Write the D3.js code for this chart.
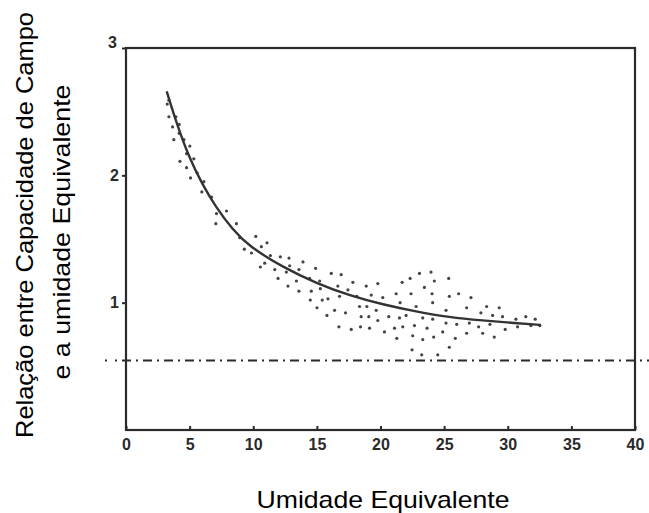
<!DOCTYPE html>
<html>
<head>
<meta charset="utf-8">
<script src="https://cdn.jsdelivr.net/npm/d3@7"></script>
<style>
  body { margin: 0; background: #fff; }
  svg { display: block; }
</style>
</head>
<body>
<script>
// tick values
var xTicks = [0, 5, 10, 15, 20, 25, 30, 35, 40];
var yTicks = [1, 2, 3];

// fitted curve (umidade equivalente vs relacao)
var curveX = [3.2, 4.0, 5.0, 6.0, 7.0, 8.4, 9.7, 12.3, 15.0, 17.6, 20.2, 22.8, 25.4, 28.0, 30.6, 32.6];
var curveY = [2.66, 2.40, 2.13, 1.93, 1.76, 1.57, 1.44, 1.28, 1.15, 1.055, 0.985, 0.93, 0.885, 0.86, 0.84, 0.825];

// observed points
var scatterX = [3.37, 3.24, 3.37, 3.92, 3.66, 4.18, 4.18, 3.76, 4.55, 5.02, 4.76, 5.33, 4.24, 4.76, 5.07, 5.59,
    6.12, 5.96, 6.72, 7.11, 7.90, 7.06, 8.68, 8.94, 9.3,
    10.20, 11.08, 10.64, 9.86, 11.35, 12.13, 12.81, 13.91, 10.56, 10.90, 11.69, 12.60, 12.86, 13.59, 14.90,
    11.95, 13.39, 14.43, 15.22, 16.13, 16.91, 12.73, 13.59, 14.56, 15.27, 16.65, 17.83, 18.88, 19.79,
    14.48, 15.42, 15.87, 16.78, 17.44, 18.14, 19.27, 20.18, 21.70, 22.33, 23.06, 23.97, 24.23, 25.36,
    23.45, 24.05, 25.41, 26.14, 27.11, 21.23, 22.40,
    15.01, 16.39, 17.25, 18.35, 18.93, 19.66, 21.54, 22.80, 24.10, 25.15, 26.77, 28.34, 29.33,
    15.79, 18.48, 19.08, 19.79, 20.65, 21.49, 22.01, 23.32, 24.10, 25.15, 25.99, 26.98, 27.89, 28.81, 29.59,
    30.64, 31.42, 32.16,
    16.73, 17.70, 18.43, 19.14, 20.31, 21.10, 21.75, 22.67, 23.66, 24.89, 25.88, 26.77, 27.71, 28.60, 29.80,
    30.77, 31.82, 32.52,
    21.28, 22.53, 23.32, 24.18, 25.41, 28.03, 28.94, 22.48, 23.24, 24.50];
var scatterY = [2.59, 2.56, 2.46, 2.46, 2.38, 2.40, 2.33, 2.28, 2.28, 2.23, 2.17, 2.13, 2.11, 2.06, 1.98, 2.02,
    1.95, 1.87, 1.83, 1.70, 1.72, 1.62, 1.62, 1.51, 1.42,
    1.52, 1.47, 1.44, 1.39, 1.37, 1.36, 1.35, 1.32, 1.28, 1.31, 1.26, 1.24, 1.29, 1.26, 1.27,
    1.19, 1.17, 1.19, 1.17, 1.23, 1.22, 1.13, 1.09, 1.09, 1.11, 1.13, 1.16, 1.13, 1.15,
    1.02, 1.02, 1.03, 1.05, 1.10, 1.05, 1.06, 1.04, 1.16, 1.19, 1.23, 1.24, 1.17, 1.19,
    1.12, 1.07, 1.05, 1.07, 1.04, 1.07, 1.07,
    0.96, 0.94, 0.92, 0.97, 0.97, 0.94, 1.00, 0.97, 1.00, 0.94, 0.96, 0.97, 0.96,
    0.90, 0.89, 0.89, 0.86, 0.89, 0.88, 0.90, 0.88, 0.87, 0.84, 0.83, 0.84, 0.92, 0.90, 0.89,
    0.87, 0.89, 0.87,
    0.81, 0.79, 0.81, 0.80, 0.77, 0.80, 0.81, 0.82, 0.80, 0.77, 0.72, 0.76, 0.81, 0.83, 0.79,
    0.81, 0.82, 0.82,
    0.72, 0.74, 0.71, 0.73, 0.65, 0.76, 0.73, 0.63, 0.59, 0.59];

// horizontal reference level
var refLevel = 0.545;

var xTitle = "Umidade Equivalente";
var yTitle1 = "Relação entre Capacidade de Campo";
var yTitle2 = "e a umidade Equivalente";

function init() {
    var w = 649;
    var h = 513;
    var left = 126, right = 635, top = 48, bottom = 430;
    var ink = "#2a2a2a";

    var svg = d3.select("body")
        .append("svg")
        .attr("width", w)
        .attr("height", h);

    svg.append("rect")
        .attr("width", w)
        .attr("height", h)
        .attr("fill", "#fff");

    var x = d3.scaleLinear().domain([0, 40]).range([left, right]);
    var y = d3.scaleLinear().domain([0, 3]).range([bottom, top]);

    // frame
    svg.append("rect")
        .attr("x", left)
        .attr("y", top)
        .attr("width", right - left)
        .attr("height", bottom - top)
        .attr("fill", "none")
        .attr("stroke", ink)
        .attr("stroke-width", 2.2);

    // x axis
    var xAxis = svg.append("g")
        .attr("transform", "translate(0," + bottom + ")")
        .call(d3.axisBottom(x).tickValues(xTicks).tickSize(-4).tickPadding(9));
    xAxis.select(".domain").remove();

    // y axis
    var yAxis = svg.append("g")
        .attr("transform", "translate(" + left + ",0)")
        .call(d3.axisLeft(y).tickValues(yTicks).tickFormat(d3.format("d")).tickSize(4).tickPadding(3));
    yAxis.select(".domain").remove();
    yAxis.selectAll(".tick text")
        .attr("dy", function(d) { return d === 3 ? "-0.05em" : "0.32em"; })
        .attr("x", function(d) { return d === 3 ? -9 : -7; });

    svg.selectAll(".tick line")
        .attr("stroke", ink)
        .attr("stroke-width", 2);
    svg.selectAll(".tick text")
        .attr("fill", ink)
        .style("font-family", "'Liberation Sans', Arial, sans-serif")
        .style("font-weight", "bold")
        .style("font-size", "16px");

    // dash-dot reference line
    svg.append("line")
        .attr("x1", left - 21)
        .attr("x2", w)
        .attr("y1", y(refLevel))
        .attr("y2", y(refLevel))
        .attr("stroke", ink)
        .attr("stroke-width", 2)
        .attr("stroke-dasharray", "2,8,2,5,9,5,2,5,9,5,2,5,9,5,2,5,9,5,2,5,9,5,2,5,9,5,2,5,9,5,2,5,9,5,2,5,9,5,2,5,9,5,2,5,9,5,2,5,9,5,2,5,9,5,2,5,9,5,2,5,9,5,2,5,9,5,2,5,9,5,2,5,9,5,2,5,9,5,2,5,9,5,2,5,9,5,2,5,9,5,2,5,9,5,2,5,9,5,2,5,9,5,2,5,9,5,2,5,9,5,2,5,9,5,2,5,9,5");

    // points
    var pts = d3.zip(scatterX, scatterY);
    svg.selectAll("circle.pt")
        .data(pts)
        .enter()
        .append("circle")
        .attr("class", "pt")
        .attr("cx", function(d) { return x(d[0]); })
        .attr("cy", function(d) { return y(d[1]); })
        .attr("r", 1.6)
        .attr("fill", "#444");

    // fitted curve
    var line = d3.line()
        .x(function(d) { return x(d[0]); })
        .y(function(d) { return y(d[1]); })
        .curve(d3.curveBasis);

    svg.append("path")
        .datum(d3.zip(curveX, curveY))
        .attr("d", line)
        .attr("fill", "none")
        .attr("stroke", "#333")
        .attr("stroke-width", 2.4);

    // titles
    svg.append("text")
        .attr("x", 383)
        .attr("y", 508)
        .attr("text-anchor", "middle")
        .attr("textLength", 253)
        .attr("lengthAdjust", "spacingAndGlyphs")
        .style("font-family", "'Liberation Sans', Arial, sans-serif")
        .style("font-size", "24px")
        .attr("fill", "#000")
        .text(xTitle);

    svg.append("text")
        .attr("transform", "translate(33,225) rotate(-90)")
        .attr("text-anchor", "middle")
        .attr("textLength", 426)
        .attr("lengthAdjust", "spacingAndGlyphs")
        .style("font-family", "'Liberation Sans', Arial, sans-serif")
        .style("font-size", "24px")
        .attr("fill", "#000")
        .text(yTitle1);

    svg.append("text")
        .attr("transform", "translate(70,232) rotate(-90)")
        .attr("text-anchor", "middle")
        .attr("textLength", 295)
        .attr("lengthAdjust", "spacingAndGlyphs")
        .style("font-family", "'Liberation Sans', Arial, sans-serif")
        .style("font-size", "24px")
        .attr("fill", "#000")
        .text(yTitle2);
}
window.onload = init;
</script>
</body>
</html>
